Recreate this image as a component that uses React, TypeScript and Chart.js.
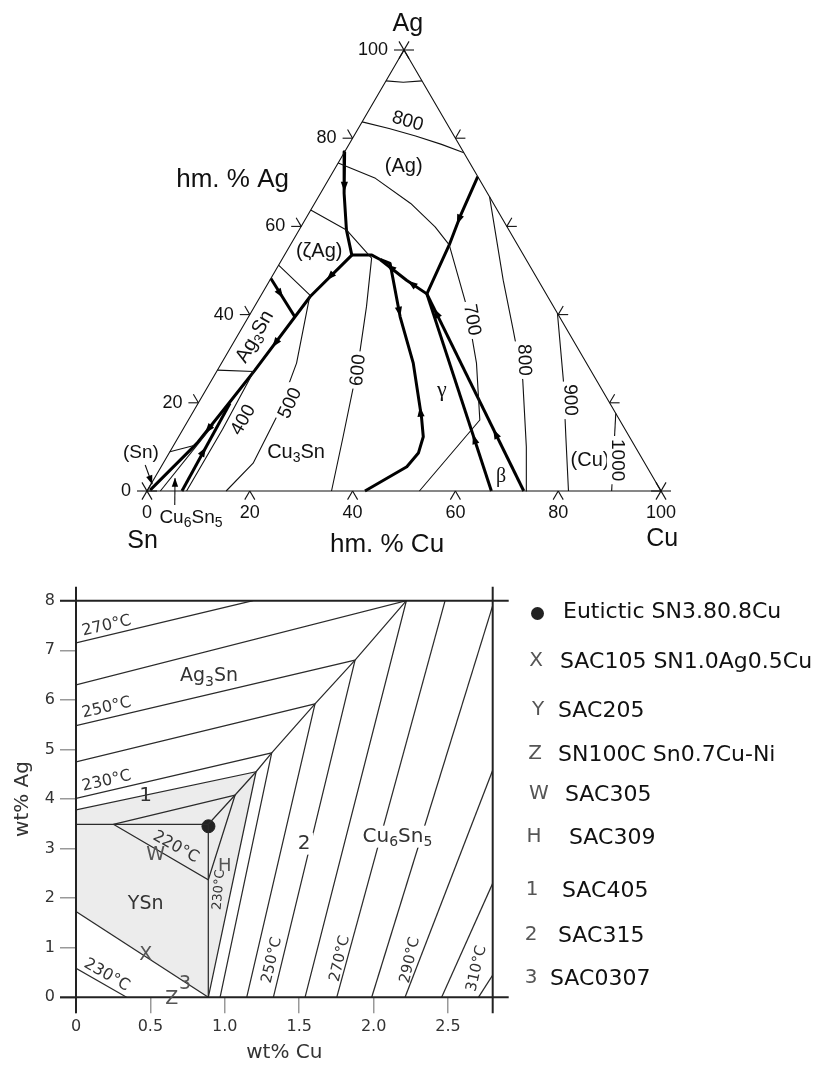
import React, { useEffect, useRef } from "react";
import { Chart, registerables } from "chart.js";

Chart.register(...registerables);

// ================= TOP: ternary Sn–Ag–Cu liquidus projection (hm.% Cu, hm.% Ag) =================
const ternaryTickValues = [20, 40, 60, 80];
const ternaryAxisLabels = [0, 20, 40, 60, 80, 100];
const triangleEdges = [[0, 0], [100, 0], [0, 100], [0, 0]];

// thin isotherms
const iso900Ag = [[0, 93], [3.5, 92.7], [7, 93]];
const iso800Ag = [[0, 83.7], [6, 82.2], [12, 80.5], [18, 78.6], [23.3, 76.7]];
const iso700 = [[0, 74.4], [9, 70.9], [18.7, 65.2], [26.1, 59.9], [30.9, 55.8], [41.3, 41.8], [49.6, 29], [56.7, 16.1], [53, 0]];
const iso800Cu = [[33.3, 66.7], [45.4, 47.8], [53, 36.5], [60.5, 25.2], [68.8, 10], [73.8, 0]];
const iso900Cu = [[59.7, 40.3], [68.4, 25.2], [75.5, 12], [82, 0]];
const iso1000 = [[82.4, 17.6], [90.4, 0]];
const iso600 = [[0, 63.7], [9.2, 59.2], [17.3, 52.8], [21.8, 41.8], [26.6, 29], [32, 12.3], [35.9, 0]];
const iso500 = [[0, 51.2], [9.5, 44.4], [14.6, 29], [16.8, 16.9], [17.5, 6.3], [15.4, 0]];
const iso400 = [[0, 27.4], [7.2, 27.1], [7.7, 14], [7.7, 0]];
const isoSnSmall = [[0, 8.9], [4, 10.3]];
const thinNearSn = [[2.6, 0], [5.4, 15]];

// thick monovariant lines
const valleyAgZeta = [[0, 76.9], [4.6, 67.5], [9.2, 59.2], [13.1, 53.5]];
const valleyPeak = [[13.1, 53.5], [17, 53.5], [19.1, 52.5]];
const valleyAgCu = [[28.7, 71.3], [29.8, 62.2], [30.9, 55.8], [32.1, 44.7]];
const valleyToPeak = [[32.1, 44.7], [26.6, 47.8], [19.1, 52.5]];
const valleyGamma = [[19.1, 52.5], [21.5, 51.6], [29.5, 39.5], [37.3, 29], [45, 16.8], [47.6, 12.3], [48.5, 8.6], [47.8, 5.5], [42.4, 0]];
const valleyBetaL = [[32.1, 44.7], [67, 0]];
const valleyBetaR = [[32.1, 44.7], [73.3, 0]];
const valleyAg3Sn = [[13.1, 53.5], [9.7, 44.1], [7.3, 27.4], [6, 20], [4.3, 10.8], [0.5, 0.2]];
const valleyAg3SnShort = [[0, 48.2], [9, 39.5]];
const valleyCu6Sn5 = [[6.8, 0], [6.2, 19.9]];

// arrowheads: [c, a, towards c, towards a]
const ternaryArrows = [
  [3.9, 69, 5.4, 66],
  [29.9, 61.5, 30.4, 58.5],
  [28, 47, 26, 48.2],
  [22, 50.7, 20, 51.9],
  [11.3, 48.6, 10.6, 46.5],
  [8.2, 33.5, 7.8, 30.5],
  [4.9, 14, 4.5, 12],
  [3.6, 44.7, 5.2, 43.2],
  [6.5, 9, 6.5, 11],
  [28.8, 40.6, 30, 38.8],
  [44.2, 18, 43, 20],
  [36.1, 40.4, 34.5, 42.1],
  [57.8, 11.8, 56.8, 13.1],
  [61.3, 13, 59.9, 14.5],
];
const pointerArrows = [
  [-3.3, 5.9, 0.2, 1.6],
  [7.0, -3.2, 4.0, 2.9],
];

const ternaryLabels = [
  { text: "Ag", c: -2.2, a: 105.9, size: 25 },
  { text: "Sn", c: 4.8, a: -11.3, size: 25 },
  { text: "Cu", c: 105.7, a: -10.9, size: 25 },
  { text: "hm. % Ag", c: -18.6, a: 70.5, size: 26 },
  { text: "hm. % Cu", c: 52.8, a: -12.2, size: 26 },
  { text: "(Ag)", c: 13.2, a: 73.5, size: 20 },
  { text: "(ζAg)", c: 6.4, a: 54.2, size: 20 },
  { text: "Ag_3Sn", c: 3.5, a: 35, size: 20, rot: -60 },
  { text: "Cu_3Sn", c: 24.6, a: 8.8, size: 20 },
  { text: "γ", c: 45.9, a: 22.9, size: 22, serif: true },
  { text: "β", c: 67.3, a: 3.2, size: 20, serif: true },
  { text: "(Cu)", c: 82.7, a: 7.0, size: 20 },
  { text: "400", c: 10.7, a: 16.1, size: 19, rot: -60 },
  { text: "500", c: 17.9, a: 19.9, size: 19, rot: -65, bg: true },
  { text: "600", c: 27.4, a: 27.4, size: 19, rot: -85, bg: true },
  { text: "700", c: 43.8, a: 38.8, size: 19, rot: 80, bg: true },
  { text: "800", c: 8.8, a: 83.8, size: 19, rot: 16 },
  { text: "800", c: 58.5, a: 29.7, size: 19, rot: 88, bg: true },
  { text: "900", c: 72, a: 20.6, size: 19, rot: 88, bg: true },
  { text: "1000", c: 88, a: 7.0, size: 19, rot: 90, bg: true },
  { text: "(Sn)", c: -5.5, a: 8.6, size: 19 },
  { text: "Cu_6Sn_5", c: 11.6, a: -6.1, size: 19 },
];

// ================= BOTTOM: Sn-rich corner (wt% Cu, wt% Ag) =================
const cuTicks = [0, 0.5, 1.0, 1.5, 2.0, 2.5];
const cuTickLabels = ["0", "0.5", "1.0", "1.5", "2.0", "2.5"];
const agTicks = [0, 1, 2, 3, 4, 5, 6, 7, 8];

const liquidRegion = [[0, 3.78], [1.21, 4.55], [0.889, 0], [0, 1.73]];
const iso270Ag3Sn = [[0, 7.15], [1.19, 8]];
const iso260 = [[0, 6.3], [2.22, 8], [1.539, 0]];
const iso250 = [[0, 5.48], [1.875, 6.8], [1.326, 0]];
const iso240 = [[0, 4.75], [1.606, 5.92], [1.147, 0]];
const iso230 = [[0, 4.01], [1.315, 4.93], [0.968, 0]];
const iso225 = [[0, 3.78], [1.21, 4.55], [0.889, 0]];
const iso220 = [[0.251, 3.49], [1.069, 4.08], [0.889, 2.37], [0.251, 3.49]];
const valleySnAg3Sn = [[0, 3.49], [0.889, 3.49]];
const valleySnCu6Sn5 = [[0.889, 3.49], [0.889, 0]];
const valleyAg3SnCu6Sn5 = [[0.889, 3.49], [1.069, 4.08], [1.21, 4.55], [1.315, 4.93], [1.606, 5.92], [1.875, 6.8], [2.22, 8]];
const iso230Sn = [[0, 1.73], [0.889, 0]];
const iso230SnLow = [[0, 0.585], [0.34, 0]];
const iso270Cu6Sn5 = [[2.48, 8], [1.752, 0]];
const iso280 = [[2.8, 7.9], [1.987, 0]];
const iso290 = [[2.8, 4.58], [2.211, 0]];
const iso300 = [[2.8, 2.3], [2.457, 0]];
const iso310 = [[2.8, 0.45], [2.704, 0]];
const eutecticPoint = [[0.89, 3.45]];

const bottomLabels = [
  { text: "270°C", x: 0.206, y: 7.49, rot: -13, size: 16 },
  { text: "250°C", x: 0.206, y: 5.84, rot: -13, size: 16 },
  { text: "230°C", x: 0.206, y: 4.36, rot: -13, size: 16 },
  { text: "Ag_3Sn", x: 0.894, y: 6.47, size: 19 },
  { text: "1", x: 0.468, y: 4.06, size: 20 },
  { text: "220°C", x: 0.67, y: 3.03, rot: 29, size: 16 },
  { text: "W", x: 0.535, y: 2.87, size: 19, color: "#555" },
  { text: "YSn", x: 0.468, y: 1.88, size: 19 },
  { text: "X", x: 0.468, y: 0.85, size: 19, color: "#555" },
  { text: "3", x: 0.733, y: 0.27, size: 19, color: "#555" },
  { text: "Z", x: 0.643, y: -0.03, size: 19, color: "#555" },
  { text: "230°C", x: 0.206, y: 0.45, rot: 30, size: 16 },
  { text: "H", x: 1.0, y: 2.64, size: 18, color: "#555" },
  { text: "230°C", x: 0.961, y: 2.17, rot: -85, size: 13 },
  { text: "2", x: 1.532, y: 3.1, size: 20, bg: true },
  { text: "Cu_6Sn_5", x: 2.16, y: 3.24, size: 20, bg: true },
  { text: "250°C", x: 1.317, y: 0.75, rot: -77, size: 15 },
  { text: "270°C", x: 1.774, y: 0.78, rot: -77, size: 15 },
  { text: "290°C", x: 2.245, y: 0.75, rot: -77, size: 15 },
  { text: "310°C", x: 2.693, y: 0.58, rot: -77, size: 15 },
];

const legendMarkers = ["●", "X", "Y", "Z", "W", "H", "1", "2", "3"];
const legendNames = [
  "Eutictic SN3.80.8Cu",
  "SAC105 SN1.0Ag0.5Cu",
  "SAC205",
  "SN100C Sn0.7Cu-Ni",
  "SAC305",
  "SAC309",
  "SAC405",
  "SAC315",
  "SAC0307",
];

// ----- layout / style constants -----
const FONT = '"Liberation Sans", Arial, Helvetica, sans-serif';
const FONT_B = '"DejaVu Sans", Verdana, sans-serif';
const SERIF = '"Liberation Serif", "Times New Roman", serif';
const legendRowY = [611, 661, 710, 754, 794, 837, 890, 935, 978];
const legendTextX = [563, 560, 558, 558, 565, 569, 562, 558, 550];
const legendMarkX = [537, 536, 538, 535, 539, 534, 532, 531, 531];

function drawRich(ctx: any, text: string, x: number, y: number, size: number, family: string, opts: any = {}) {
  const parts: { t: string; sub: boolean }[] = [];
  for (let i = 0; i < text.length; i++) {
    if (text[i] === "_" && i + 1 < text.length) {
      parts.push({ t: text[i + 1], sub: true });
      i++;
    } else if (parts.length && !parts[parts.length - 1].sub) parts[parts.length - 1].t += text[i];
    else parts.push({ t: text[i], sub: false });
  }
  const subSize = Math.round(size * 0.72);
  const widths = parts.map((p) => {
    ctx.font = `${p.sub ? subSize : size}px ${family}`;
    return ctx.measureText(p.t).width;
  });
  const total = widths.reduce((s, w) => s + w, 0);
  ctx.save();
  ctx.translate(x, y);
  if (opts.rot) ctx.rotate((opts.rot * Math.PI) / 180);
  if (opts.bg) {
    ctx.fillStyle = "#fff";
    ctx.fillRect(-total / 2 - 3, -size * 0.55, total + 6, size * 1.1);
  }
  ctx.fillStyle = opts.color || "#111";
  ctx.textBaseline = "middle";
  ctx.textAlign = "left";
  let cx = -total / 2;
  parts.forEach((p, i) => {
    ctx.font = `${p.sub ? subSize : size}px ${family}`;
    ctx.fillText(p.t, cx, p.sub ? size * 0.28 : 0);
    cx += widths[i];
  });
  ctx.restore();
}

function drawHead(ctx: any, x: number, y: number, dx: number, dy: number, len: number, half: number) {
  const l = Math.hypot(dx, dy) || 1;
  const ux = dx / l, uy = dy / l;
  const nx = -uy, ny = ux;
  ctx.beginPath();
  ctx.moveTo(x + ux * len * 0.5, y + uy * len * 0.5);
  ctx.lineTo(x - ux * len * 0.5 + nx * half, y - uy * len * 0.5 + ny * half);
  ctx.lineTo(x - ux * len * 0.5 - nx * half, y - uy * len * 0.5 - ny * half);
  ctx.closePath();
  ctx.fill();
}

const toTernary = (pts: number[][]) => pts.map(([c, a]) => ({ x: c + a / 2, y: a }));
const thinT = (pts: number[][]) => ({
  data: toTernary(pts), showLine: true, borderColor: "#111", borderWidth: 1.1,
  pointRadius: 0, clip: false, fill: false, tension: 0, borderJoinStyle: "round",
});
const thickT = (pts: number[][]) => ({ ...thinT(pts), borderColor: "#000", borderWidth: 3 });

const ternaryDecor = {
  id: "ternaryDecor",
  afterDatasetsDraw(chart: any) {
    const ctx = chart.ctx;
    const xs = chart.scales.x, ys = chart.scales.y;
    const P = (c: number, a: number) => [xs.getPixelForValue(c + a / 2), ys.getPixelForValue(a)];
    const [snX, snY] = P(0, 0), [cuX, cuY] = P(100, 0), [agX, agY] = P(0, 100);
    const unit = (dx: number, dy: number) => { const l = Math.hypot(dx, dy); return [dx / l, dy / l]; };
    const upL = unit(agX - snX, agY - snY);
    const upR = unit(agX - cuX, agY - cuY);
    ctx.save();
    ctx.strokeStyle = "#111";
    ctx.lineWidth = 1.1;
    const seg = (x: number, y: number, d: number[], len: number) => {
      ctx.beginPath(); ctx.moveTo(x, y); ctx.lineTo(x + d[0] * len, y + d[1] * len); ctx.stroke();
    };
    const TL = 10;
    ternaryTickValues.forEach((v) => {
      let [x, y] = P(v, 0);
      seg(x, y, [-upL[0], -upL[1]], TL); seg(x, y, [-upR[0], -upR[1]], TL);
      [x, y] = P(0, v);
      seg(x, y, [-1, 0], TL); seg(x, y, upR, TL);
      [x, y] = P(100 - v, v);
      seg(x, y, [1, 0], TL); seg(x, y, upL, TL);
    });
    [[snX, snY], [cuX, cuY], [agX, agY]].forEach(([x, y]) => {
      [[1, 0], upL, upR].forEach((d) => {
        ctx.beginPath(); ctx.moveTo(x - d[0] * TL, y - d[1] * TL); ctx.lineTo(x + d[0] * TL, y + d[1] * TL); ctx.stroke();
      });
    });
    ctx.fillStyle = "#000";
    ternaryArrows.forEach(([c, a, tc, ta]) => {
      const [x, y] = P(c, a); const [x2, y2] = P(tc, ta);
      drawHead(ctx, x, y, x2 - x, y2 - y, 10, 3.6);
    });
    pointerArrows.forEach(([c, a, tc, ta]) => {
      const [x, y] = P(c, a); const [x2, y2] = P(tc, ta);
      ctx.beginPath(); ctx.moveTo(x, y); ctx.lineTo(x2, y2); ctx.stroke();
      const l = Math.hypot(x2 - x, y2 - y);
      drawHead(ctx, x2 - ((x2 - x) / l) * 4, y2 - ((y2 - y) / l) * 4, x2 - x, y2 - y, 9, 3.2);
    });
    ctx.fillStyle = "#111";
    ctx.font = `18px ${FONT}`;
    ctx.textBaseline = "middle";
    ctx.textAlign = "center";
    ternaryAxisLabels.forEach((v) => { const [x, y] = P(v, 0); ctx.fillText(String(v), x, y + 22); });
    ctx.textAlign = "right";
    ternaryAxisLabels.forEach((v) => { const [x, y] = P(0, v); ctx.fillText(String(v), x - 16, y); });
    ctx.restore();
    ternaryLabels.forEach((l) => {
      const [x, y] = P(l.c, l.a);
      drawRich(ctx, l.text, x, y, l.size, l.serif ? SERIF : FONT, { rot: l.rot, bg: l.bg });
    });
  },
};

const line = (pts: number[][]) => ({
  data: pts.map(([x, y]) => ({ x, y })), showLine: true, borderColor: "#2b2b2b", borderWidth: 1.25,
  pointRadius: 0, fill: false, tension: 0,
});

const bottomDecor = {
  id: "bottomDecor",
  beforeDatasetsDraw(chart: any) {
    const ctx = chart.ctx; const xs = chart.scales.x, ys = chart.scales.y;
    ctx.save();
    ctx.fillStyle = "#ececec";
    ctx.beginPath();
    liquidRegion.forEach(([x, y], i) => {
      const px = xs.getPixelForValue(x), py = ys.getPixelForValue(y);
      if (i) ctx.lineTo(px, py); else ctx.moveTo(px, py);
    });
    ctx.closePath(); ctx.fill(); ctx.restore();
  },
  afterDatasetsDraw(chart: any) {
    const ctx = chart.ctx; const xs = chart.scales.x, ys = chart.scales.y;
    const { left, right, top, bottom } = chart.chartArea;
    ctx.save();
    ctx.strokeStyle = "#222"; ctx.lineWidth = 2;
    [agTicks[0], agTicks[agTicks.length - 1]].forEach((v) => {
      const py = ys.getPixelForValue(v);
      ctx.beginPath(); ctx.moveTo(left - 16, py); ctx.lineTo(right + 16, py); ctx.stroke();
    });
    [xs.min, xs.max].forEach((v: number) => {
      const px = xs.getPixelForValue(v);
      ctx.beginPath(); ctx.moveTo(px, top - 14); ctx.lineTo(px, bottom + 16); ctx.stroke();
    });
    ctx.restore();
    bottomLabels.forEach((l) => {
      drawRich(ctx, l.text, xs.getPixelForValue(l.x), ys.getPixelForValue(l.y), l.size, FONT_B, {
        rot: l.rot, bg: l.bg, color: l.color || "#333",
      });
    });
  },
};

export default function App() {
  const topRef = useRef<HTMLCanvasElement>(null);
  const botRef = useRef<HTMLCanvasElement>(null);

  useEffect(() => {
    const topChart = new Chart(topRef.current as HTMLCanvasElement, {
      type: "scatter",
      data: {
        datasets: [
          thinT(triangleEdges), thinT(iso900Ag), thinT(iso800Ag), thinT(iso700), thinT(iso800Cu),
          thinT(iso900Cu), thinT(iso1000), thinT(iso600), thinT(iso500), thinT(iso400),
          thinT(isoSnSmall), thinT(thinNearSn),
          thickT(valleyAgZeta), thickT(valleyPeak), thickT(valleyAgCu), thickT(valleyToPeak),
          thickT(valleyGamma), thickT(valleyBetaL), thickT(valleyBetaR), thickT(valleyAg3Sn),
          thickT(valleyAg3SnShort), thickT(valleyCu6Sn5),
        ] as any,
      },
      options: {
        responsive: false, animation: false, events: [],
        layout: { padding: { left: 147, right: 160, top: 50, bottom: 79 } },
        plugins: { legend: { display: false }, tooltip: { enabled: false } },
        scales: {
          x: { type: "linear", min: 0, max: 100, display: false },
          y: { type: "linear", min: 0, max: 100, display: false },
        },
      } as any,
      plugins: [ternaryDecor],
    });

    const botChart = new Chart(botRef.current as HTMLCanvasElement, {
      type: "scatter",
      data: {
        datasets: [
          line(iso270Ag3Sn), line(iso260), line(iso250), line(iso240), line(iso230), line(iso225),
          line(iso220), line(valleySnAg3Sn), line(valleySnCu6Sn5), line(valleyAg3SnCu6Sn5),
          line(iso230Sn), line(iso230SnLow), line(iso270Cu6Sn5), line(iso280), line(iso290),
          line(iso300), line(iso310),
          {
            data: eutecticPoint.map(([x, y]) => ({ x, y })), showLine: false, pointRadius: 6.5,
            pointStyle: "circle", backgroundColor: "#222", borderColor: "#222",
          },
        ] as any,
      },
      options: {
        responsive: false, animation: false, events: [],
        layout: { padding: { left: 0, top: 30.7, right: 328.3, bottom: 0 } },
        plugins: { legend: { display: false }, tooltip: { enabled: false } },
        scales: {
          x: {
            type: "linear", min: 0, max: 2.8,
            afterBuildTicks: (s: any) => { s.ticks = cuTicks.map((v) => ({ value: v })); },
            afterFit: (s: any) => { s.height = 68.7; },
            ticks: {
              callback: (_v: any, i: number) => cuTickLabels[i], autoSkip: false, maxRotation: 0,
              font: { family: FONT_B, size: 16 }, color: "#333", padding: 4,
            },
            grid: { drawOnChartArea: false, drawTicks: true, tickLength: 16, color: "#999", lineWidth: 1.5 },
            border: { display: false },
            title: { display: true, text: "wt% Cu", font: { family: FONT_B, size: 20 }, color: "#333", padding: { top: 0, bottom: 1 } },
          },
          y: {
            type: "linear", min: 0, max: 8,
            afterBuildTicks: (s: any) => { s.ticks = agTicks.map((v) => ({ value: v })); },
            afterFit: (s: any) => { s.width = 76; },
            ticks: {
              callback: (_v: any, i: number) => String(agTicks[i]), autoSkip: false,
              font: { family: FONT_B, size: 16 }, color: "#333", padding: 5,
            },
            grid: { drawOnChartArea: false, drawTicks: true, tickLength: 16, color: "#999", lineWidth: 1.5 },
            border: { display: false },
            title: { display: true, text: "wt% Ag", font: { family: FONT_B, size: 20 }, color: "#333", padding: { top: 11, bottom: 0 } },
          },
        },
      } as any,
      plugins: [bottomDecor],
    });

    return () => {
      topChart.destroy();
      botChart.destroy();
    };
  }, []);

  return (
    <div style={{ position: "absolute", left: 0, top: 0, width: 821, height: 1066, background: "#fff", overflow: "hidden" }}>
      <canvas ref={topRef} width={821} height={570} style={{ position: "absolute", left: 0, top: 0 }} />
      <canvas ref={botRef} width={821} height={496} style={{ position: "absolute", left: 0, top: 570 }} />
      {legendNames.map((name, i) => (
        <React.Fragment key={i}>
          {i === 0 ? (
            <div style={{ position: "absolute", left: legendMarkX[i] - 6.5, top: legendRowY[i] - 4, width: 13, height: 13, borderRadius: "50%", background: "#222" }} />
          ) : (
            <div style={{ position: "absolute", left: legendMarkX[i] - 12, top: legendRowY[i] - 15, width: 24, textAlign: "center", font: `20px "DejaVu Sans", sans-serif`, lineHeight: "26px", color: "#555" }}>
              {legendMarkers[i]}
            </div>
          )}
          <div style={{ position: "absolute", left: legendTextX[i], top: legendRowY[i] - 13, font: `22px "DejaVu Sans", sans-serif`, lineHeight: "26px", color: "#111", whiteSpace: "nowrap" }}>
            {name}
          </div>
        </React.Fragment>
      ))}
    </div>
  );
}
